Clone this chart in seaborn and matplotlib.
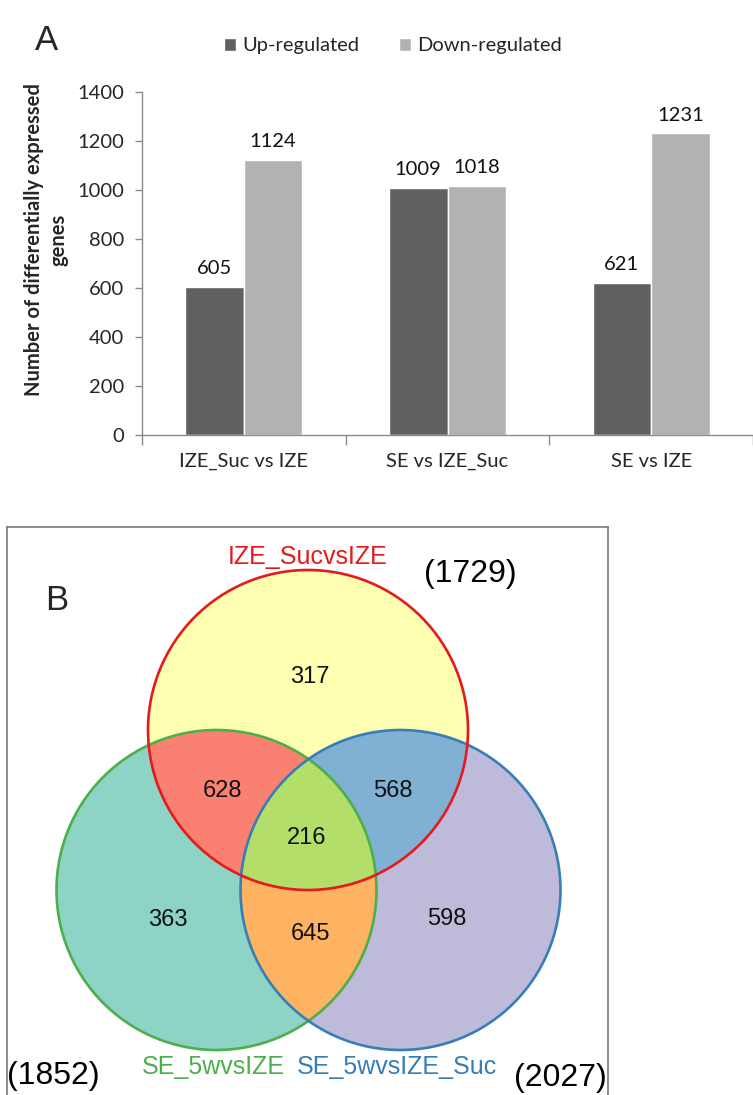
import numpy as np
import pandas as pd
import matplotlib
matplotlib.use("Agg")
import matplotlib.pyplot as plt
from matplotlib.colors import ListedColormap
from matplotlib.patches import Circle, Patch
import seaborn as sns

# ---------------- data ----------------
categories = ["IZE_Suc vs IZE", "SE vs IZE_Suc", "SE vs IZE"]
series = ["Up-regulated", "Down-regulated"]
up_counts = [605, 1009, 621]
down_counts = [1124, 1018, 1231]
y_ticks = [0, 200, 400, 600, 800, 1000, 1200, 1400]

venn_sets = ["IZE_SucvsIZE", "SE_5wvsIZE", "SE_5wvsIZE_Suc"]
venn_totals = [1729, 1852, 2027]
# region counts: only red, red&green, red&blue, all, only green, green&blue, only blue
region_codes = [1, 3, 5, 7, 2, 6, 4]
region_counts = [317, 628, 568, 216, 363, 645, 598]

# ---------------- style ----------------
sns.set_theme(style="white")
plt.rcParams["font.family"] = ["Lato", "DejaVu Sans"]

W, H = 753, 1095
fig = plt.figure(figsize=(W / 100, H / 100), dpi=100)


def rect(l, t, r, b):
    return [l / W, 1 - b / H, (r - l) / W, (b - t) / H]


# ---------------- panel A ----------------
axA = fig.add_axes(rect(142, 92, 753, 435))
df = pd.DataFrame({
    "Comparison": categories * 2,
    "Count": up_counts + down_counts,
    "Regulation": [series[0]] * 3 + [series[1]] * 3,
})
sns.barplot(data=df, x="Comparison", y="Count", hue="Regulation",
            palette=["#606060", "#b2b2b2"], width=0.575, gap=0,
            saturation=1, ax=axA, legend=False)
for cont in axA.containers:
    axA.bar_label(cont, padding=7, fontsize=14.5, color="#111111")

axA.set_ylim(0, 1400)
axA.set_xlim(-0.5, -0.5 + 611 / 206)
axA.set_yticks(y_ticks)
axA.set_xlabel("")
axA.set_ylabel("")
for s in ["top", "right"]:
    axA.spines[s].set_visible(False)
for s in ["left", "bottom"]:
    axA.spines[s].set_color("#8c8c8c")
    axA.spines[s].set_linewidth(1.0)
axA.tick_params(axis="y", which="major", direction="out", length=5,
                color="#8c8c8c", width=1, labelsize=14.5, pad=8, left=True)
axA.tick_params(axis="x", which="major", length=0, labelsize=14.5, pad=13)
axA.set_xticks([-0.5, 0.5, 1.5, 2.5], minor=True)
axA.tick_params(axis="x", which="minor", direction="out", length=7,
                color="#8c8c8c", width=1, bottom=True)

fig.text(46 / W, 1 - 240 / H, "Number of differentially expressed\ngenes",
         rotation=90, ha="center", va="center", multialignment="center",
         fontsize=14.5, fontweight="bold", linespacing=1.3)

handles = [Patch(facecolor="#606060"), Patch(facecolor="#b2b2b2")]
fig.legend(handles, series, loc="center", bbox_to_anchor=(393 / W, 1 - 46 / H),
           ncol=2, frameon=False, fontsize=14.5, handlelength=0.6,
           handleheight=0.6, handletextpad=0.3, columnspacing=2.0)

fig.text(35 / W, 1 - 40 / H, "A", fontsize=25, family="Liberation Sans",
         ha="left", va="center")

# ---------------- panel B ----------------
axB = fig.add_axes(rect(7, 527, 608, 1095))
axB.set_xlim(7, 608)
axB.set_ylim(1095, 527)
axB.set_xticks([])
axB.set_yticks([])
for s in ["top", "left", "right"]:
    axB.spines[s].set_color("#7a7a7a")
    axB.spines[s].set_linewidth(1.2)
axB.spines["bottom"].set_visible(False)

centers = [(308, 730), (216.5, 890), (400.5, 890)]
radius = 160
edge_colors = ["#e41a1c", "#4daf4a", "#377eb8"]

xs = np.linspace(7, 608, 1803)
ys = np.linspace(527, 1095, 1704)
X, Y = np.meshgrid(xs, ys)
code = np.zeros_like(X, dtype=int)
for i, (cx, cy) in enumerate(centers):
    code += ((X - cx) ** 2 + (Y - cy) ** 2 <= radius ** 2).astype(int) << i
fill_colors = ["#ffffff", "#ffffb3", "#8dd3c7", "#fb8072",
               "#bebada", "#80b1d3", "#fdb462", "#b3de69"]
masked = np.ma.masked_where(code == 0, code)
axB.imshow(masked, cmap=ListedColormap(fill_colors), vmin=-0.5, vmax=7.5,
           extent=(7, 608, 1095, 527), origin="upper", interpolation="antialiased",
           aspect="auto")

for idx in [1, 2, 0]:
    axB.add_patch(Circle(centers[idx], radius, fill=False,
                         edgecolor=edge_colors[idx], linewidth=1.9, zorder=3))

label_pos = {1: (310, 677), 3: (223, 791), 5: (393, 791), 7: (307, 838),
             2: (168, 920), 6: (310, 934), 4: (447, 919)}
for c, n in zip(region_codes, region_counts):
    x, y = label_pos[c]
    axB.text(x, y, str(n), ha="center", va="center", fontsize=17,
             family="Liberation Sans", color="#111111", zorder=4)

helv = "Liberation Sans"
axB.text(308, 557, venn_sets[0], ha="center", va="center", fontsize=18,
         family=helv, color=edge_colors[0])
axB.text(142, 1067, venn_sets[1], ha="left", va="center", fontsize=18,
         family=helv, color=edge_colors[1])
axB.text(297, 1067, venn_sets[2], ha="left", va="center", fontsize=18,
         family=helv, color=edge_colors[2])
axB.text(470, 574, f"({venn_totals[0]})", ha="center", va="center",
         fontsize=23, family=helv, color="black")
axB.text(7, 1076, f"({venn_totals[1]})", ha="left", va="center",
         fontsize=23, family=helv, color="black", clip_on=False)
axB.text(607, 1078, f"({venn_totals[2]})", ha="right", va="center",
         fontsize=23, family=helv, color="black")
axB.text(45, 600, "B", ha="left", va="center", fontsize=25, family=helv)

fig.savefig("out.png", dpi=100)
